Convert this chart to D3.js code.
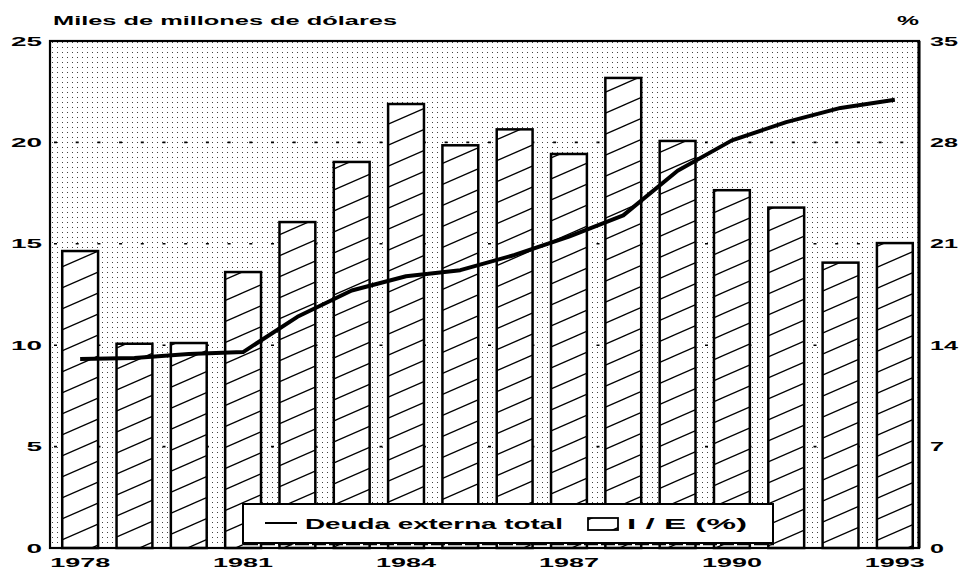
<!DOCTYPE html>
<html><head><meta charset="utf-8">
<script src="https://cdn.jsdelivr.net/npm/d3@7"></script>
<style>body{margin:0;background:#fff}</style>
</head><body>
<svg id="c" width="963" height="573"></svg>
<script>
// ---- data ----
const years = [1978,1979,1980,1981,1982,1983,1984,1985,1986,1987,1988,1989,1990,1991,1992,1993];
const deudaExterna = [9.32,9.37,9.57,9.66,11.4,12.7,13.4,13.7,14.45,15.35,16.4,18.6,20.1,21.0,21.7,22.1];
const ieShare = [20.5,14.1,14.15,19.05,22.5,26.65,30.65,27.8,28.9,27.2,32.45,28.1,24.7,23.5,19.7,21.05];
const leftTicks = [0,5,10,15,20,25];
const rightTicks = [0,7,14,21,28,35];
const gridTicks = [5,10,15,20];
const xTickYears = [1978,1981,1984,1987,1990,1993];
const titleLeft = "Miles de millones de dólares";
const titleRight = "%";
const legendLine = "Deuda externa total";
const legendBar = "I / E (%)";

// ---- layout ----
const svg = d3.select("#c");
const L = 50, R = 919, T = 41, B = 548;
const FONT = "'Liberation Sans', Arial, sans-serif";

const x = d3.scaleBand().domain(years).range([53, 922]).paddingInner(0.34).paddingOuter(0.17);
const yL = d3.scaleLinear().domain([0,25]).range([B,T]);
const yR = d3.scaleLinear().domain([0,35]).range([B,T]);

const defs = svg.append("defs");
const dots = defs.append("pattern").attr("id","dots").attr("patternUnits","userSpaceOnUse")
  .attr("width",5).attr("height",5);
dots.append("rect").attr("width",5).attr("height",5).attr("fill","#fff");
dots.append("rect").attr("x",2).attr("y",2).attr("width",1).attr("height",1).attr("fill","#444");

const HW = 48, HH = 21;
const hatch = defs.append("pattern").attr("id","hatch").attr("patternUnits","userSpaceOnUse")
  .attr("width",HW).attr("height",HH);
hatch.append("rect").attr("width",HW).attr("height",HH).attr("fill","#fff");
[[0,HH,HW,0],[-HW,HH,HW,-HH],[0,2*HH,2*HW,0]].forEach(s=>{
  hatch.append("line").attr("x1",s[0]).attr("y1",s[1]).attr("x2",s[2]).attr("y2",s[3])
    .attr("stroke","#000").attr("stroke-width",1.3);
});

// background
svg.append("rect").attr("x",L).attr("y",T).attr("width",R-L).attr("height",B-T).attr("fill","url(#dots)");

// grid lines
svg.append("g").selectAll("line").data(gridTicks).join("line")
  .attr("x1",L+4).attr("x2",R).attr("y1",d=>yL(d)).attr("y2",d=>yL(d))
  .attr("stroke","#000").attr("stroke-width",1.6).attr("stroke-dasharray","3,18.7");

// bars
svg.append("g").selectAll("rect").data(years).join("rect")
  .attr("x",d=>x(d)).attr("width",x.bandwidth())
  .attr("y",(d,i)=>yR(ieShare[i])).attr("height",(d,i)=>B-yR(ieShare[i]))
  .attr("fill","url(#hatch)").attr("stroke","#000").attr("stroke-width",2.5);

// line
const line = d3.line().x((d,i)=>x(years[i])+x.bandwidth()/2).y(d=>yL(d));
svg.append("path").datum(deudaExterna).attr("d",line)
  .attr("fill","none").attr("stroke","#000").attr("stroke-width",4).attr("stroke-linejoin","round");

// frame
svg.append("rect").attr("x",L).attr("y",T).attr("width",R-L).attr("height",B-T)
  .attr("fill","none").attr("stroke","#000").attr("stroke-width",2.2);
svg.append("line").attr("x1",R).attr("x2",R).attr("y1",T).attr("y2",B).attr("stroke","#000").attr("stroke-width",3);

// legend
const lg = svg.append("g");
lg.append("rect").attr("x",243).attr("y",504).attr("width",530).attr("height",39)
  .attr("fill","#fff").attr("stroke","#000").attr("stroke-width",2);
lg.append("line").attr("x1",244).attr("x2",774).attr("y1",544.5).attr("y2",544.5).attr("stroke","#000").attr("stroke-width",1.5).attr("stroke-dasharray","14,3");
lg.append("line").attr("x1",265).attr("x2",297).attr("y1",523).attr("y2",523).attr("stroke","#000").attr("stroke-width",2);
lg.append("text").attr("x",305).attr("y",529).text(legendLine)
  .attr("font-family",FONT).attr("font-weight","bold").attr("font-size",15)
  .attr("textLength",258).attr("lengthAdjust","spacingAndGlyphs");
lg.append("rect").attr("x",588).attr("y",518).attr("width",30).attr("height",12)
  .attr("fill","url(#hatch)").attr("stroke","#000").attr("stroke-width",1.8);
lg.append("text").attr("x",627).attr("y",529).text(legendBar)
  .attr("font-family",FONT).attr("font-weight","bold").attr("font-size",15)
  .attr("textLength",120).attr("lengthAdjust","spacingAndGlyphs");

// axis labels
const txt = (g)=>g.attr("font-family",FONT).attr("font-weight","bold").attr("lengthAdjust","spacingAndGlyphs");
svg.append("g").selectAll("text").data(leftTicks).join("text")
  .attr("x",42).attr("y",d=>yL(d)+4.5).attr("text-anchor","end").attr("font-size",12.5)
  .attr("textLength",d=>String(d).length*15.5).text(d=>d).call(txt);
svg.append("g").selectAll("text").data(rightTicks).join("text")
  .attr("x",930).attr("y",d=>yR(d)+4.5).attr("text-anchor","start").attr("font-size",12.5)
  .attr("textLength",d=>String(d).length*14).text(d=>d).call(txt);
svg.append("g").selectAll("text").data(xTickYears).join("text")
  .attr("x",d=>x(d)+x.bandwidth()/2).attr("y",567).attr("text-anchor","middle").attr("font-size",12.5)
  .attr("textLength",60).text(d=>d).call(txt);

svg.append("text").attr("x",53).attr("y",25).attr("font-size",13.5)
  .attr("textLength",344).text(titleLeft).call(txt);
svg.append("text").attr("x",897).attr("y",25).attr("font-size",13.5)
  .attr("textLength",22).text(titleRight).call(txt);
</script>
</body></html>
